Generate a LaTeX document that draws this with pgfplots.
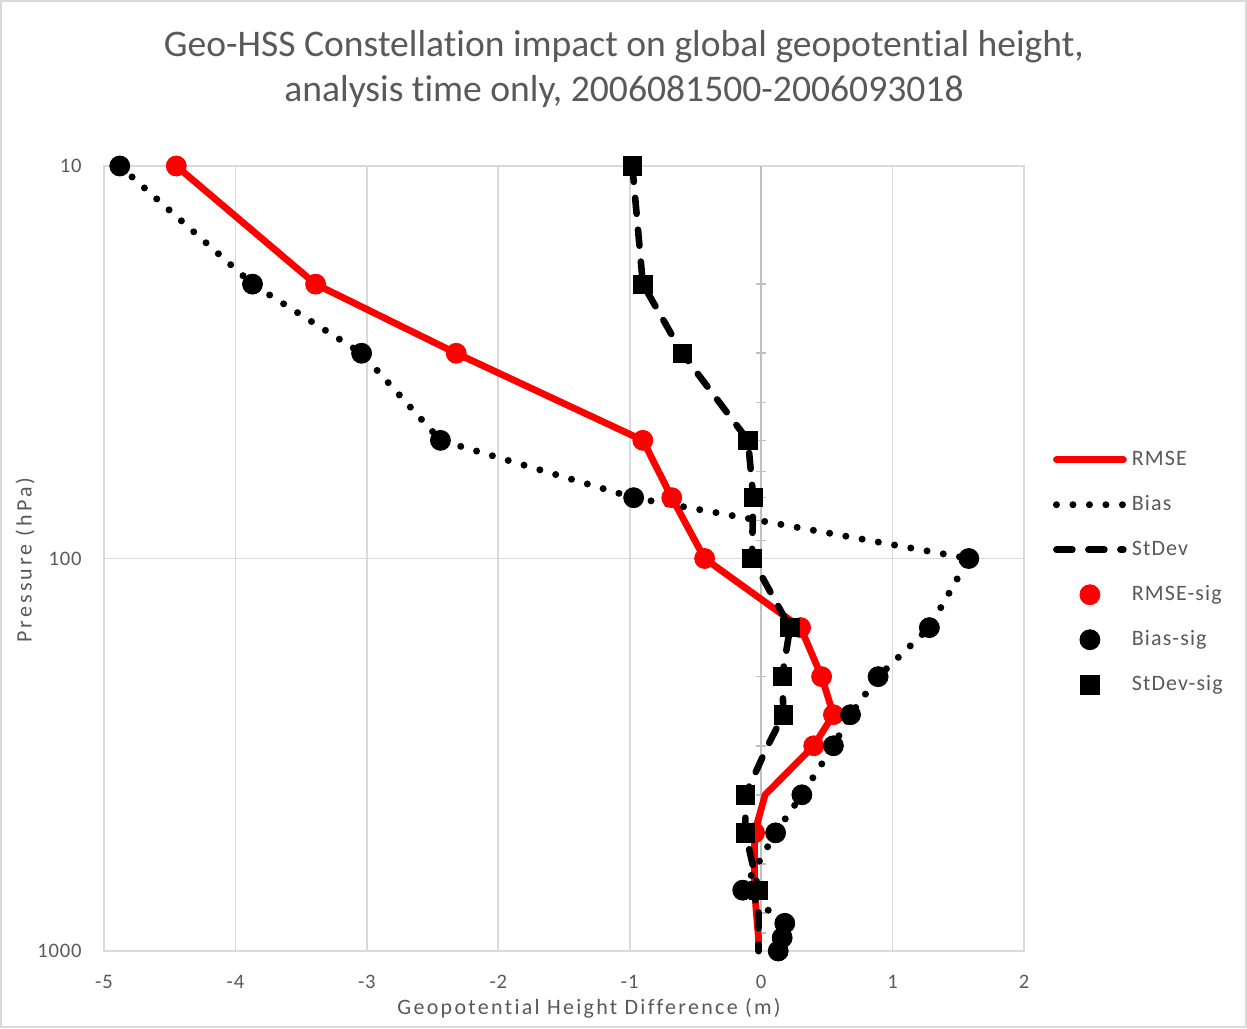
\documentclass[border=0pt]{standalone}
\usepackage{fontspec}
\setmainfont{Carlito}[Ligatures=NoCommon]
\newfontfamily\tickfont[LetterSpace=4, Ligatures=NoCommon]{Carlito}
\newfontfamily\labfont[LetterSpace=10.5, Ligatures=NoCommon]{Carlito}
\newfontfamily\ylabfont[LetterSpace=14, Ligatures=NoCommon]{Carlito}
\newfontfamily\legfont[LetterSpace=5, Ligatures=NoCommon]{Carlito}
\usepackage{pgfplots}
\pgfplotsset{compat=1.18}

\definecolor{txt}{HTML}{595959}
\definecolor{grd}{HTML}{D9D9D9}
\definecolor{zax}{HTML}{BFBFBF}

% Profiles by pressure level (hPa): difference in geopotential height (m)
\pgfplotstableread{
p     rmse   bias   stdev
10   -4.45  -4.88  -0.98
20   -3.39  -3.87  -0.90
30   -2.32  -3.04  -0.60
50   -0.90  -2.44  -0.10
70   -0.68  -0.97  -0.06
100  -0.43   1.58  -0.07
150   0.30   1.28   0.22
200   0.46   0.89   0.16
250   0.55   0.68   0.17
300   0.40   0.55   0.05
400   0.03   0.31  -0.12
500  -0.05   0.11  -0.12
700  -0.05  -0.14  -0.02
850  -0.03   0.18  -0.02
925  -0.02   0.16  -0.02
1000 -0.02   0.13  -0.02
}\prof

% Levels where each difference is significant
\pgfplotstableread{
p     rmse
10   -4.45
20   -3.39
30   -2.32
50   -0.90
70   -0.68
100  -0.43
150   0.30
200   0.46
250   0.55
300   0.40
500  -0.05
}\rmsesig

\pgfplotstableread{
p     bias
10   -4.88
20   -3.87
30   -3.04
50   -2.44
70   -0.97
100   1.58
150   1.28
200   0.89
250   0.68
300   0.55
400   0.31
500   0.11
700  -0.14
850   0.18
925   0.16
1000  0.13
}\biassig

\pgfplotstableread{
p     stdev
10   -0.98
20   -0.90
30   -0.60
50   -0.10
70   -0.06
100  -0.07
150   0.22
200   0.16
250   0.17
400  -0.12
500  -0.12
700  -0.02
}\stdevsig

\begin{document}
\begin{tikzpicture}
% chart frame: 623.5pt x 514pt
\draw[grd, line width=0.8pt] (0.4pt,0.4pt) rectangle (623.1pt,513.6pt);

\begin{axis}[
  at={(52pt,38.5pt)}, anchor=south west,
  scale only axis, width=460pt, height=392.5pt,
  xmin=-5, xmax=2,
  ymode=log, ymin=10, ymax=1000, y dir=reverse,
  clip=false,
  axis line style={grd, line width=0.8pt},
  xtick={-5,-4,-3,-2,-1,0,1,2},
  xticklabels={-5,-4,-3,-2,-1,0,1,2},
  ytick={10,100,1000},
  yticklabels={10,100,1000},
  minor ytick={},
  major tick length=0pt, minor tick length=0pt,
  xmajorgrids, ymajorgrids,
  grid style={grd, line width=0.8pt},
  tick label style={text=txt, font=\tickfont\fontsize{10.3}{12}\selectfont, inner sep=0pt},
  xticklabel style={anchor=north, yshift=-12pt},
  yticklabel style={anchor=east, xshift=-11pt},
  legend style={
    at={(1.031,0.655)}, anchor=north west,
    draw=none, fill=none, inner sep=0pt,
    font=\legfont\fontsize{11}{13}\selectfont, text=txt,
    row sep=0pt,
    nodes={inner sep=1pt, text height=13pt, text depth=7.5pt},
    /tikz/every odd column/.append style={column sep=1.5pt},
  },
  legend cell align=left,
  legend image code/.code={
    \draw[mark repeat=2, mark phase=2]
      plot coordinates {(0pt,0pt) (16.75pt,0pt) (33.5pt,0pt)};
  },
]
% axis line at zero with its minor ticks
\draw[zax, line width=0.8pt] (axis cs:0,10) -- (axis cs:0,1000);
\pgfplotsinvokeforeach{20,30,40,50,60,70,80,90,200,300,400,500,600,700,800,900}{
  \draw[zax, line width=0.8pt] (axis cs:-0.04,#1) -- (axis cs:0.04,#1);
}

\addplot[red, line width=3.4pt, line join=round, line cap=round]
  table[x=rmse, y=p] {\prof};
\addlegendentry{RMSE}
\addplot[black, line width=3.5pt, line cap=round, line join=round,
  dash pattern=on 0pt off 8.25pt]
  table[x=bias, y=p] {\prof};
\addlegendentry{Bias}
\addplot[black, line width=3.3pt, line cap=round, line join=round,
  dash pattern=on 8pt off 8pt]
  table[x=stdev, y=p] {\prof};
\addlegendentry{StDev}

\addplot[only marks, mark=*, mark size=5pt, red, mark options={draw=red, fill=red}]
  table[x=rmse, y=p] {\rmsesig};
\addlegendentry{RMSE-sig}
\addplot[only marks, mark=*, mark size=5pt, black]
  table[x=bias, y=p] {\biassig};
\addlegendentry{Bias-sig}
\addplot[only marks, mark=square*, mark size=4.6pt, black,
  mark options={rounded corners=1.2pt}]
  table[x=stdev, y=p] {\stdevsig};
\addlegendentry{StDev-sig}
\end{axis}

% titles
\node[text=txt, align=center, font=\fontsize{18.8}{22.5}\selectfont]
  at (312pt,479.5pt)
  {Geo-HSS Constellation impact on global geopotential height,\\
   analysis time only, 2006081500-2006093018};
\node[text=txt, font=\labfont\fontsize{11}{13}\selectfont]
  at (294.5pt,9.8pt) {Geopotential Height Difference (m)};
\node[text=txt, font=\ylabfont\fontsize{11}{13}\selectfont, rotate=90]
  at (12.5pt,234pt) {Pressure (hPa)};
\end{tikzpicture}
\end{document}
